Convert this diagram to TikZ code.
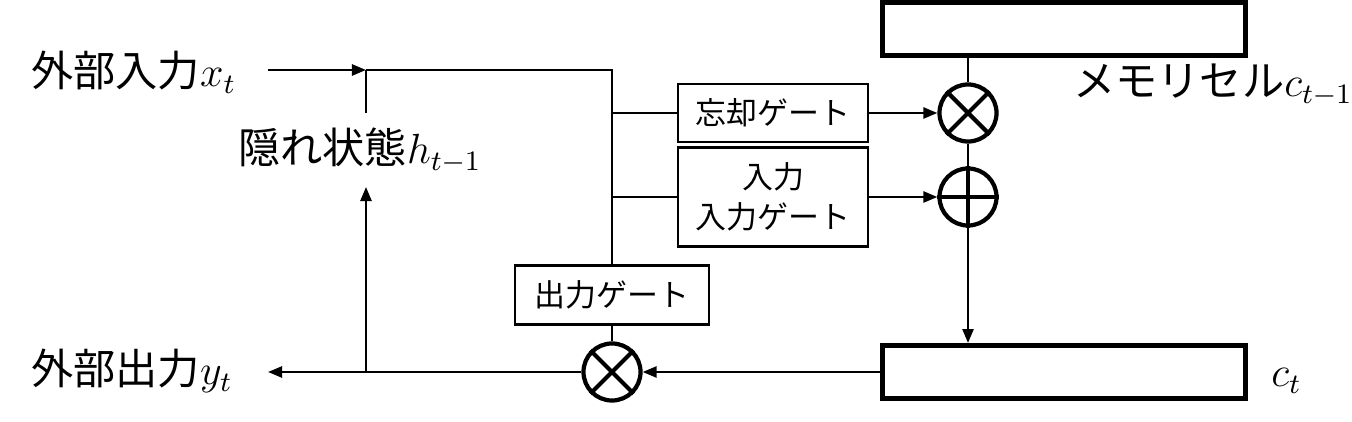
\documentclass[tikz,border=0pt]{standalone}
\usepackage{fontspec}
\newfontfamily\jp{Noto Sans CJK JP}
\usetikzlibrary{arrows.meta}
\begin{document}
\begin{tikzpicture}[x=0.01cm, y=-0.01cm, line width=0.7pt,
  >={Triangle[length=0.14cm, width=0.11cm]},
  gate/.style={draw, font=\jp\fontsize{8.8}{11.4}\selectfont, align=center, inner sep=0, minimum width=1.9cm},
  cell/.style={draw, line width=1.4pt, minimum width=3.62cm, minimum height=0.53cm, inner sep=0},
  op/.style={draw, circle, line width=1.2pt, minimum size=0.57cm, inner sep=0},
  lbl/.style={font=\jp\fontsize{12}{14}\selectfont, inner sep=0, anchor=base west}]
\useasboundingbox (0,0) rectangle (1352,422);
% memory cells
\node[cell] (prev) at (1064,29) {};
\node[cell] (cur) at (1064,372) {};
\node[lbl] (cprev) at (1072,97) {メモリセル$c_{t-1}$};
\node[lbl] (cnow) at (1270,387) {$c_t$};
% gates
\node[gate, minimum height=0.58cm] (fg) at (773,113) {忘却ゲート};
\node[gate, minimum height=0.99cm] (ig) at (773,197) {入力\\入力ゲート};
\node[gate, minimum width=1.94cm, minimum height=0.59cm] (og) at (612,295) {出力ゲート};
% operations
\node[op] (fmul) at (968,113) {};
\node[op] (add) at (968,197) {};
\node[op] (omul) at (612,372) {};
\draw[line width=1.2pt] (fmul.north west) -- (fmul.south east) (fmul.north east) -- (fmul.south west);
\draw[line width=1.2pt] (add.north) -- (add.south) (add.west) -- (add.east);
\draw[line width=1.2pt] (omul.north west) -- (omul.south east) (omul.north east) -- (omul.south west);
% labels left
\node[lbl] (xin) at (30,87) {外部入力$x_t$};
\node[lbl] (hid) at (237,164) {隠れ状態$h_{t-1}$};
\node[lbl] (yout) at (30,385) {外部出力$y_t$};
\coordinate (xs) at (268,70);
\coordinate (hj) at (366,70);
\coordinate (hup) at (366,113);
\coordinate (hdn) at (366,187);
\coordinate (top) at (612,70);
\coordinate (ys) at (268,372);
\coordinate (oj) at (366,372);
% connectors
\draw[->] (xs) -- (hj);
\draw (hj) -- (top) -- (og.north);
\draw (hup) -- (hj);
\draw (top |- fg.west) -- (fg.west);
\draw (top |- ig.west) -- (ig.west);
\draw[->] (fg.east) -- (fmul.west);
\draw[->] (ig.east) -- (add.west);
\draw (fmul |- prev.south) -- (fmul.north);
\draw (fmul.south) -- (add.north);
\draw[->] (add.south) -- (add |- cur.north);
\draw[->] (cur.west) -- (omul.east);
\draw (og.south) -- (omul.north);
\draw[->] (omul.west) -- (ys);
\draw[->] (oj) -- (hdn);
\end{tikzpicture}
\end{document}
